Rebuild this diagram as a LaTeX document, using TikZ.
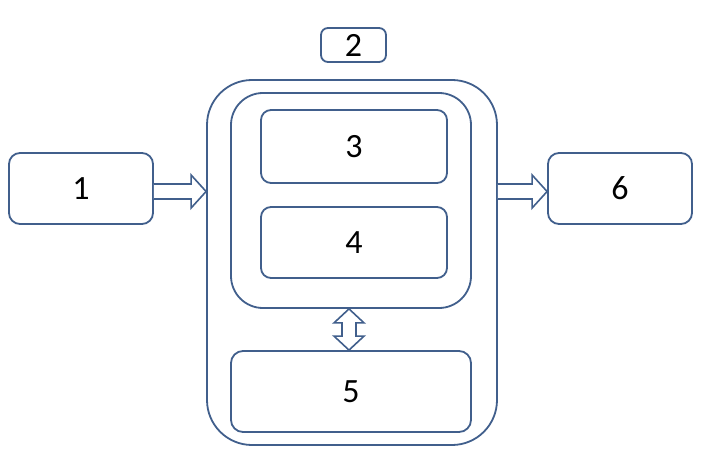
\documentclass[tikz,border=0pt]{standalone}
\usepackage{fontspec}
\setmainfont{Carlito}
\usetikzlibrary{calc}
\definecolor{edge}{RGB}{65,95,140}
\begin{document}
\begin{tikzpicture}[x=1pt,y=1pt,
  box/.style={draw=edge,line width=1.8pt,rounded corners=#1,inner sep=0pt,font=\fontsize{34}{34}\selectfont},
  box/.default=11pt,
  blockarrow/.style={draw=edge,line width=1.6pt,fill=white,line join=miter}]
\useasboundingbox (0,0) rectangle (701,464);
\node[box, minimum width=144, minimum height=71] (b1) at (81,275.5) {1};
\node[box=7pt, minimum width=65, minimum height=34] (b2) at (353.5,419) {2};
\node[box=45pt, minimum width=290, minimum height=365] (outer) at (352,201.5) {};
\node[box=32pt, minimum width=240, minimum height=215] (inner) at (351,263.5) {};
\node[box=10pt, minimum width=186, minimum height=73] (b3) at (354,317.5) {3};
\node[box=10pt, minimum width=186, minimum height=71] (b4) at (354,221.5) {4};
\node[box=12pt, minimum width=240, minimum height=81] (b5) at (351,72.5) {5};
\node[box, minimum width=144, minimum height=71] (b6) at (620,275.5) {6};
% right arrow 1 -> outer
\coordinate (t1) at ($(b1.east)+(0,-3)$);
\coordinate (p1) at (outer.west |- t1);
\draw[blockarrow] ($(t1)+(0,7.5)$) -- ($(p1)+(-15,7.5)$) -- ($(p1)+(-15,16.5)$) -- (p1)
  -- ($(p1)+(-15,-16.5)$) -- ($(p1)+(-15,-7.5)$) -- ($(t1)+(0,-7.5)$);
% right arrow outer -> 6
\coordinate (p2) at (b6.west |- t1);
\coordinate (t2) at (outer.east |- t1);
\draw[blockarrow] ($(t2)+(0,7.5)$) -- ($(p2)+(-15,7.5)$) -- ($(p2)+(-15,16.5)$) -- (p2)
  -- ($(p2)+(-15,-16.5)$) -- ($(p2)+(-15,-7.5)$) -- ($(t2)+(0,-7.5)$);
% double arrow inner <-> 5
\coordinate (u) at ($(inner.south)+(-2,0)$);
\coordinate (d) at (u |- b5.north);
\draw[blockarrow] (u) -- ($(u)+(15,-14)$) -- ($(u)+(7,-14)$) -- ($(d)+(7,14)$) -- ($(d)+(15,14)$)
  -- (d) -- ($(d)+(-15,14)$) -- ($(d)+(-7,14)$) -- ($(u)+(-7,-14)$) -- ($(u)+(-15,-14)$) -- cycle;
\end{tikzpicture}
\end{document}
